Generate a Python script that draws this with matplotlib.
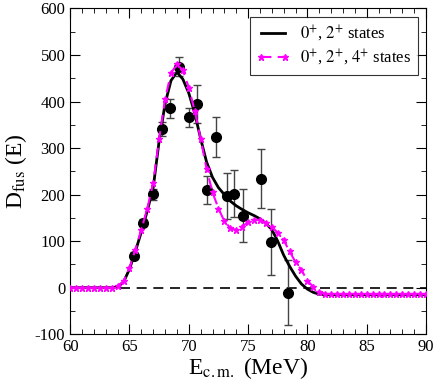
import numpy as np
import matplotlib
matplotlib.use("Agg")
import matplotlib.pyplot as plt
from matplotlib.ticker import MultipleLocator

plt.rcParams['font.family'] = ['Liberation Serif', 'DejaVu Serif']
plt.rcParams['mathtext.fontset'] = 'stix'
plt.rcParams['axes.unicode_minus'] = False

# experimental points
exp_e = [65.4, 66.15, 66.95, 67.7, 68.4, 69.2, 70.0, 70.7, 71.55, 72.3,
         73.2, 73.85, 74.55, 76.1, 76.9, 78.4]
exp_d = [69, 140, 201, 341, 385, 475, 366, 394, 210, 323,
         197, 202, 155, 234, 98, -11]
exp_err = [8, 8, 12, 15, 21, 20, 21, 41, 30, 43,
           50, 50, 57, 63, 71, 70]

# calculations, 0.5 MeV grid from 60 to 90
e_grid = np.arange(60, 90.01, 0.5)
d_02 = [0, 0, 0, 0, 0, 0, 0, 0,
        2, 12, 40, 78, 120, 165, 215, 315, 395, 445,
        463, 448, 418, 375, 320, 270, 237, 215, 200, 186,
        176, 168, 161, 155, 148, 138, 125, 100, 70, 46,
        25, 8, -3, -10, -14, -15,
        -15, -15, -15, -15, -15, -15, -15, -15, -15, -15,
        -15, -15, -15, -15, -15, -15, -15]
d_024 = [0, 0, 0, 0, 0, 0, 0, 0,
         3, 14, 42, 82, 125, 170, 225, 320, 405, 461,
         480, 467, 430, 380, 320, 255, 205, 170, 143, 128,
         124, 131, 141, 146, 145, 140, 131, 118, 102, 78,
         55, 38, 15, 2, -9, -13,
         -14, -14, -14, -14, -14, -14, -14, -14, -14, -14,
         -14, -14, -14, -14, -14, -14, -14]

fig = plt.figure(figsize=(4.36, 3.82), dpi=100)
ax = fig.add_axes([0.161, 0.125, 0.816, 0.853])

ax.axhline(0, color='black', ls=(0, (6, 4)), lw=1.2, zorder=1)
ax.errorbar(exp_e, exp_d, yerr=exp_err, fmt='o', color='black', ms=7,
            ecolor='#444444', elinewidth=1.0, capsize=3, capthick=1.0, zorder=3)
ax.plot(e_grid, d_02, color='black', lw=2, label=r'$0^{+}$, $2^{+}$ states', zorder=4)
ax.plot(e_grid, d_024, color='#ff00ff', lw=1.5, ls=(0, (5, 3)), marker='*', ms=5,
        label=r'$0^{+}$, $2^{+}$, $4^{+}$ states', zorder=5)

ax.set_xlim(60, 90)
ax.set_ylim(-100, 600)
ax.xaxis.set_major_locator(MultipleLocator(5))
ax.xaxis.set_minor_locator(MultipleLocator(1))
ax.yaxis.set_major_locator(MultipleLocator(100))
ax.yaxis.set_minor_locator(MultipleLocator(50))
ax.tick_params(which='both', direction='in', top=True, right=True, labelsize=12)
ax.tick_params(which='major', length=7)
ax.tick_params(which='minor', length=3.5)

ax.set_xlabel(r'E$_{\rm c.m.}$ (MeV)', fontsize=17, labelpad=0)
ax.set_ylabel(r'D$_{\rm fus}$ (E)', fontsize=17, labelpad=4)

leg = ax.legend(loc='upper right', fontsize=12, frameon=True, fancybox=False,
                edgecolor='black', handlelength=2.0, borderaxespad=0.5,
                labelspacing=0.25, handletextpad=0.6, numpoints=2)
leg.get_frame().set_linewidth(0.8)

fig.savefig('out.png', dpi=100)
